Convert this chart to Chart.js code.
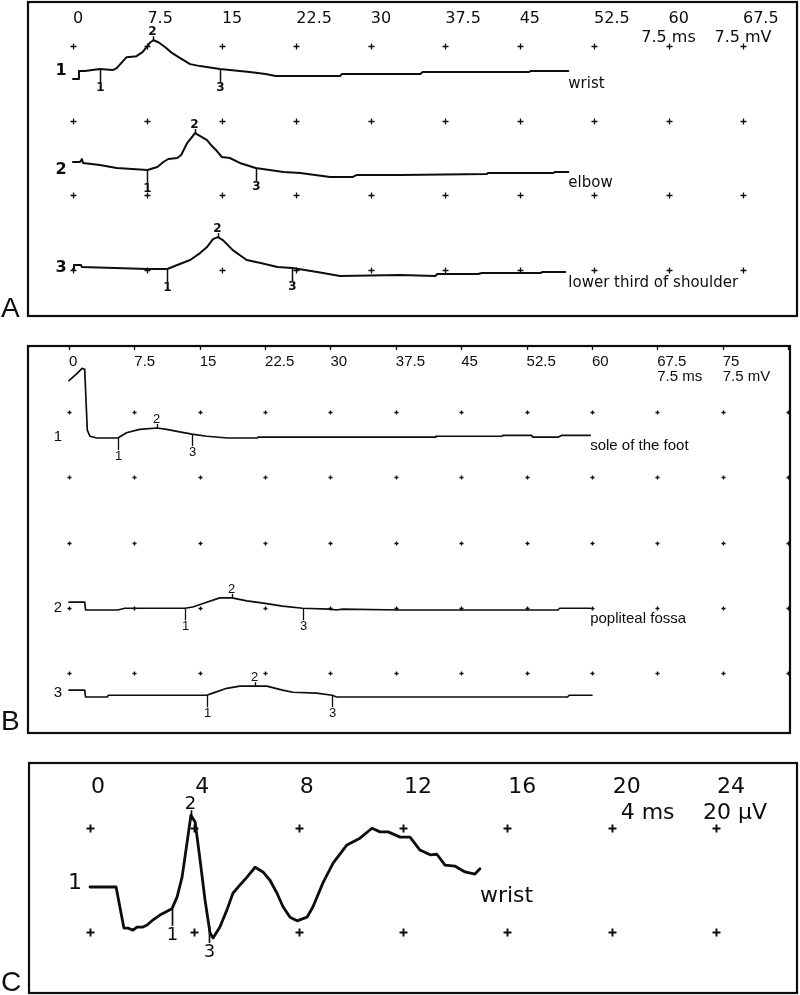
<!DOCTYPE html>
<html><head><meta charset="utf-8">
<script src="https://cdn.jsdelivr.net/npm/chart.js@4.4.1/dist/chart.umd.min.js"></script>
<style>
html,body{margin:0;padding:0;background:#fff;}
#wrap{position:relative;width:800px;height:995px;overflow:hidden;}
canvas{position:absolute;left:0;}
</style></head><body>
<div id="wrap">
<canvas id="cA" width="800" height="320" style="top:0px"></canvas>
<canvas id="cB" width="800" height="410" style="top:336px"></canvas>
<canvas id="cC" width="800" height="240" style="top:755px"></canvas>
</div>
<script>
// ---------- DATA ----------
// Panel A (median nerve CMAP) : time in ms, amplitude in mV
const ticksA = [0, 7.5, 15, 22.5, 30, 37.5, 45, 52.5, 60, 67.5];
const sitesA = ["wrist", "elbow", "lower third of shoulder"];
const a1_t = [0, 0.6, 0.6, 1.2, 2.7, 4.0, 4.4, 5.4, 6.4, 7.0, 7.5, 7.8, 8.1, 8.6, 9.3, 10.0, 10.8, 11.8, 12.8, 14.8, 17.8, 19.4, 20.4, 26.9, 27.1, 35.0, 35.2, 45.9, 46.1, 49.9];
const a1_v = [0, 0, 0.8, 0.8, 1.0, 0.9, 1.1, 2.2, 2.3, 2.7, 3.3, 3.7, 3.9, 3.7, 3.2, 2.6, 2.1, 1.5, 1.3, 1.0, 0.7, 0.5, 0.3, 0.3, 0.5, 0.5, 0.7, 0.7, 0.8, 0.8];
const a2_t = [0, 0.7, 0.9, 1.0, 2.7, 4.4, 7.5, 8.5, 9.1, 9.6, 10.5, 10.9, 11.5, 12.3, 13.5, 14.0, 14.5, 15.0, 15.8, 16.8, 18.4, 21.2, 22.9, 25.9, 28.2, 28.6, 33.0, 41.7, 41.8, 48.4, 48.6, 49.9];
const a2_v = [0, 0, 0.3, -0.1, -0.3, -0.6, -0.8, -0.5, 0, 0.3, 0.4, 0.7, 1.9, 2.9, 2.2, 1.6, 1.1, 0.5, 0.4, -0.1, -0.6, -1.0, -1.1, -1.5, -1.5, -1.3, -1.3, -1.2, -1.1, -1.1, -1.0, -1.0];
const a3_t = [0, 0.1, 0.8, 0.9, 7.5, 9.5, 10.5, 11.8, 12.8, 13.5, 14.1, 14.6, 15.1, 16.1, 17.5, 18.9, 20.6, 22.1, 24.6, 26.9, 33.0, 36.5, 36.7, 40.8, 41.2, 47.1, 47.3, 49.6];
const a3_v = [-0.2, 0.2, 0.2, 0, -0.2, -0.2, 0.2, 0.7, 1.4, 2.0, 2.8, 3.0, 2.7, 1.7, 0.7, 0.4, 0, -0.1, -0.5, -0.9, -0.8, -0.9, -0.7, -0.7, -0.6, -0.6, -0.5, -0.5];
const a1_marks = [2.7, 8.1, 14.8];
const a2_marks = [7.5, 12.3, 18.4];
const a3_marks = [9.5, 14.6, 22.1];

// Panel B (tibial nerve CMAP)
const ticksB = [0, 7.5, 15, 22.5, 30, 37.5, 45, 52.5, 60, 67.5, 75];
const sitesB = ["sole of the foot", "popliteal fossa", ""];
const b1_t = [0, 0.9, 1.5, 1.8, 2.1, 2.4, 3.2, 5.6, 6.6, 8.1, 10.1, 11.2, 12.7, 14.1, 15.8, 18.2, 21.6, 21.7, 38.0, 42.0, 42.1, 49.7, 49.8, 53.1, 53.2, 56.1, 56.5, 59.8];
const b1_v = [6.6, 7.4, 8.0, 7.9, 0.9, 0.2, 0, 0, 0.6, 1.0, 1.15, 1.0, 0.7, 0.45, 0.2, 0, 0, 0.1, 0.1, 0.1, 0.2, 0.2, 0.3, 0.3, 0.1, 0.1, 0.3, 0.3];
const b2_t = [0, 1.8, 1.9, 5.6, 6.4, 13.3, 14.2, 15.8, 17.3, 18.7, 20.4, 22.3, 24.5, 26.8, 29.9, 30.7, 31.4, 38.0, 56.1, 56.3, 59.8];
const b2_v = [0.9, 0.9, 0, 0, 0.2, 0.2, 0.35, 0.9, 1.4, 1.4, 1.05, 0.8, 0.45, 0.2, 0.1, 0, 0.1, 0, 0, 0.2, 0.2];
const b3_t = [0, 1.8, 1.9, 4.4, 4.5, 15.8, 16.5, 18.1, 19.6, 21.3, 22.7, 24.5, 25.7, 28.4, 30.2, 30.7, 38.0, 57.2, 57.4, 60.0];
const b3_v = [0.8, 0.8, 0, 0, 0.2, 0.2, 0.45, 1.0, 1.25, 1.25, 1.25, 0.8, 0.55, 0.45, 0.2, 0, 0, 0, 0.2, 0.2];
const b1_marks = [5.6, 10.1, 14.1];
const b2_marks = [13.3, 18.7, 26.8];
const b3_marks = [15.8, 21.3, 30.2];

// Panel C (sensory nerve action potential) : ms, µV
const ticksC = [0, 4, 8, 12, 16, 20, 24];
const sitesC = ["wrist"];
const c1_t = [0, 1.0, 1.3, 1.46, 1.65, 1.8, 2.03, 2.19, 2.42, 2.68, 3.14, 3.34, 3.53, 3.72, 3.87, 4.03, 4.22, 4.41, 4.6, 4.72, 4.98, 5.25, 5.48, 5.75, 6.02, 6.33, 6.63, 6.9, 7.17, 7.4, 7.67, 7.94, 8.32, 8.55, 8.93, 9.32, 9.85, 10.35, 10.81, 11.12, 11.43, 11.89, 12.27, 12.65, 13.04, 13.3, 13.61, 14.0, 14.38, 14.76, 14.95];
const c1_v = [0, 0, -7.9, -7.9, -8.3, -7.7, -7.7, -7.3, -6.3, -5.4, -4.2, -1.9, 1.9, 8.5, 13.8, 12.5, 5.2, -2.5, -8.8, -9.8, -7.7, -4.4, -1.2, 0.4, 1.9, 3.8, 2.9, 1.3, -1.2, -3.8, -5.8, -6.5, -5.8, -3.8, 0.8, 4.6, 8.1, 9.4, 11.3, 10.6, 10.6, 9.6, 9.6, 7.1, 6.2, 6.3, 4.2, 4.0, 2.9, 2.5, 3.5];
const c1_marks = [3.14, 3.87, 4.56];

// ---------- LAYOUT / STYLE ----------
const INK = '#0d0d0d';
const layouts = {
  A: {
    canvas: 'cA', letter: 'A', letterPos: [1, 317], letterFont: '28px "Liberation Sans"',
    box: [28, 2, 769, 314], boxWidth: 2.2,
    padding: {left: 73, right: 57, top: 46, bottom: 50},
    xMax: 67.5, xStep: 7.5, yMax: 22.5, yStep: 7.5,
    ticks: ticksA, tickY: 19, tickDx: 0, tickFont: '16px "DejaVu Sans"',
    units: [{text: '7.5 ms', at: 60, align: 'center', dx: 0}, {text: '7.5 mV', at: 67.5, align: 'center', dx: 0}],
    unitY: 38, unitFont: '16px "DejaVu Sans"',
    plus: {arm: 3, lw: 1.3}, topTicks: false,
    lineWidth: 2.0,
    traces: [
      {t: a1_t, v: a1_v, offset: 19.18, marks: a1_marks, site: sitesA[0], siteDx: 0, siteDy: 17, row: '1', rowDy: -8},
      {t: a2_t, v: a2_v, offset: 10.85, marks: a2_marks, site: sitesA[1], siteDx: 0, siteDy: 15, row: '2', rowDy: 8},
      {t: a3_t, v: a3_v, offset: 0.30, marks: a3_marks, site: sitesA[2], siteDx: 3, siteDy: 15, row: '3', rowDy: 1}
    ],
    rowDx: -12, rowFont: 'bold 16px "DejaVu Sans"',
    siteFont: '15px "DejaVu Sans"',
    mark: {len: 13, up: 4, font: 'bold 12px "DejaVu Sans"', lw: 1.5}
  },
  B: {
    canvas: 'cB', letter: 'B', letterPos: [1, 394], letterFont: '28px "Liberation Sans"',
    box: [28, 10, 762, 387], boxWidth: 2.2,
    padding: {left: 69, right: 12, top: 76, bottom: 73},
    xMax: 82.5, xStep: 7.5, yMax: 30, yStep: 7.5,
    ticks: ticksB, tickY: 26, tickDx: 0, tickFont: '15px "Liberation Sans"',
    units: [{text: '7.5 ms', at: 67.5, align: 'left', dx: 0}, {text: '7.5 mV', at: 75, align: 'left', dx: 0}],
    unitY: 41, unitFont: '15px "Liberation Sans"',
    plus: {arm: 2, lw: 1.3}, topTicks: true,
    lineWidth: 1.7,
    traces: [
      {t: b1_t, v: b1_v, offset: 27.01, marks: b1_marks, site: sitesB[0], siteDx: 0, siteDy: 15, row: '1', rowDy: -1},
      {t: b2_t, v: b2_v, offset: 7.24, marks: b2_marks, site: sitesB[1], siteDx: 0, siteDy: 15, row: '2', rowDy: -2},
      {t: b3_t, v: b3_v, offset: -2.76, marks: b3_marks, site: sitesB[2], siteDx: 0, siteDy: 15, row: '3', rowDy: -4}
    ],
    rowDx: -11, rowFont: '15px "Liberation Sans"',
    siteFont: '15px "Liberation Sans"',
    mark: {len: 12, up: 4, font: '13px "Liberation Sans"', lw: 1.3}
  },
  C: {
    canvas: 'cC', letter: 'C', letterPos: [1, 236], letterFont: '28px "Liberation Sans"',
    box: [29, 8, 768, 230], boxWidth: 2.2,
    padding: {left: 90, right: 84, top: 73, bottom: 63},
    xMax: 24, xStep: 4, yMax: 20, yStep: 20,
    ticks: ticksC, tickY: 32, tickDx: 1, tickFont: '22px "DejaVu Sans"',
    units: [{text: '4 ms', at: 20, align: 'left', dx: 9}, {text: '20 µV', at: 24, align: 'left', dx: -13}],
    unitY: 58, unitFont: '22px "DejaVu Sans"',
    plus: {arm: 4, lw: 1.9}, topTicks: false,
    lineWidth: 2.8,
    traces: [
      {t: c1_t, v: c1_v, offset: 8.65, marks: c1_marks, site: sitesC[0], siteDx: 0, siteDy: 33, row: '1', rowDy: -4}
    ],
    rowDx: -15, rowFont: '22px "DejaVu Sans"',
    siteFont: '22px "DejaVu Sans"',
    mark: {len: 17, up: 5, font: '18px "DejaVu Sans"', lw: 1.7}
  }
};

function interp(t, v, tm) {
  for (let i = 0; i < t.length - 1; i++) {
    if (tm >= t[i] && tm <= t[i + 1]) {
      if (t[i + 1] === t[i]) return v[i];
      return v[i] + (v[i + 1] - v[i]) * (tm - t[i]) / (t[i + 1] - t[i]);
    }
  }
  return v[v.length - 1];
}

function decor(L) {
  return {
    id: 'decor' + L.letter,
    beforeDatasetsDraw(chart) {
      const ctx = chart.ctx, xs = chart.scales.x, ys = chart.scales.y;
      ctx.save();
      ctx.strokeStyle = INK;
      ctx.lineWidth = L.boxWidth;
      ctx.strokeRect(L.box[0], L.box[1], L.box[2], L.box[3]);
      // grid pluses
      ctx.lineWidth = L.plus.lw;
      for (let c = 0; c <= L.xMax + 1e-6; c += L.xStep) {
        const px = Math.round(xs.getPixelForValue(c)) + 0.5;
        if (L.topTicks) {
          ctx.beginPath(); ctx.moveTo(px, L.box[1]); ctx.lineTo(px, L.box[1] + 4); ctx.stroke();
        }
        for (let r = 0; r <= L.yMax + 1e-6; r += L.yStep) {
          const py = Math.round(ys.getPixelForValue(r)) + 0.5;
          ctx.beginPath();
          ctx.moveTo(px - L.plus.arm, py); ctx.lineTo(px + L.plus.arm, py);
          ctx.moveTo(px, py - L.plus.arm); ctx.lineTo(px, py + L.plus.arm);
          ctx.stroke();
        }
      }
      ctx.restore();
    },
    afterDatasetsDraw(chart) {
      const ctx = chart.ctx, xs = chart.scales.x, ys = chart.scales.y;
      ctx.save();
      ctx.fillStyle = INK; ctx.strokeStyle = INK;
      // panel letter
      ctx.font = L.letterFont; ctx.textAlign = 'left'; ctx.textBaseline = 'alphabetic';
      ctx.fillText(L.letter, L.letterPos[0], L.letterPos[1]);
      // tick labels
      ctx.font = L.tickFont; ctx.textBaseline = 'middle'; ctx.textAlign = 'left';
      L.ticks.forEach(tv => ctx.fillText(String(tv), xs.getPixelForValue(tv) + L.tickDx, L.tickY));
      // unit labels
      ctx.font = L.unitFont;
      L.units.forEach(u => { ctx.textAlign = u.align; ctx.fillText(u.text, xs.getPixelForValue(u.at) + u.dx, L.unitY); });
      // per-trace annotations
      L.traces.forEach(tr => {
        // row label
        ctx.font = L.rowFont; ctx.textAlign = 'center'; ctx.textBaseline = 'middle';
        ctx.fillText(tr.row, xs.getPixelForValue(0) + L.rowDx, ys.getPixelForValue(tr.offset) + tr.rowDy);
        // site label
        if (tr.site) {
          const n = tr.t.length - 1;
          ctx.font = L.siteFont; ctx.textAlign = 'left'; ctx.textBaseline = 'alphabetic';
          ctx.fillText(tr.site, xs.getPixelForValue(tr.t[n]) + tr.siteDx, ys.getPixelForValue(tr.v[n] + tr.offset) + tr.siteDy);
        }
        // latency markers
        ctx.font = L.mark.font; ctx.lineWidth = L.mark.lw; ctx.textAlign = 'center';
        tr.marks.forEach((tm, k) => {
          const px = Math.round(xs.getPixelForValue(tm)) + 0.5;
          const py = ys.getPixelForValue(interp(tr.t, tr.v, tm) + tr.offset);
          ctx.beginPath();
          if (k === 1) {
            ctx.moveTo(px, py); ctx.lineTo(px, py - L.mark.up); ctx.stroke();
            ctx.textBaseline = 'alphabetic';
            ctx.fillText(String(k + 1), px - 1, py - L.mark.up - 1);
          } else {
            ctx.moveTo(px, py); ctx.lineTo(px, py + L.mark.len); ctx.stroke();
            ctx.textBaseline = 'top';
            ctx.fillText(String(k + 1), px, py + L.mark.len);
          }
        });
      });
      ctx.restore();
    }
  };
}

function makePanel(L) {
  const datasets = L.traces.map(tr => ({
    data: tr.t.map((x, i) => ({x: x, y: tr.v[i] + tr.offset})),
    borderColor: INK, borderWidth: L.lineWidth, pointRadius: 0, tension: 0,
    fill: false, clip: false, borderJoinStyle: 'round', borderCapStyle: 'round'
  }));
  new Chart(document.getElementById(L.canvas), {
    type: 'line',
    data: {datasets},
    options: {
      responsive: false, animation: false, devicePixelRatio: 1, events: [],
      layout: {padding: L.padding},
      plugins: {legend: {display: false}, tooltip: {enabled: false}},
      scales: {
        x: {type: 'linear', min: 0, max: L.xMax, display: false},
        y: {type: 'linear', min: 0, max: L.yMax, display: false}
      }
    },
    plugins: [decor(L)]
  });
}

makePanel(layouts.A);
makePanel(layouts.B);
makePanel(layouts.C);
</script>
</body></html>
